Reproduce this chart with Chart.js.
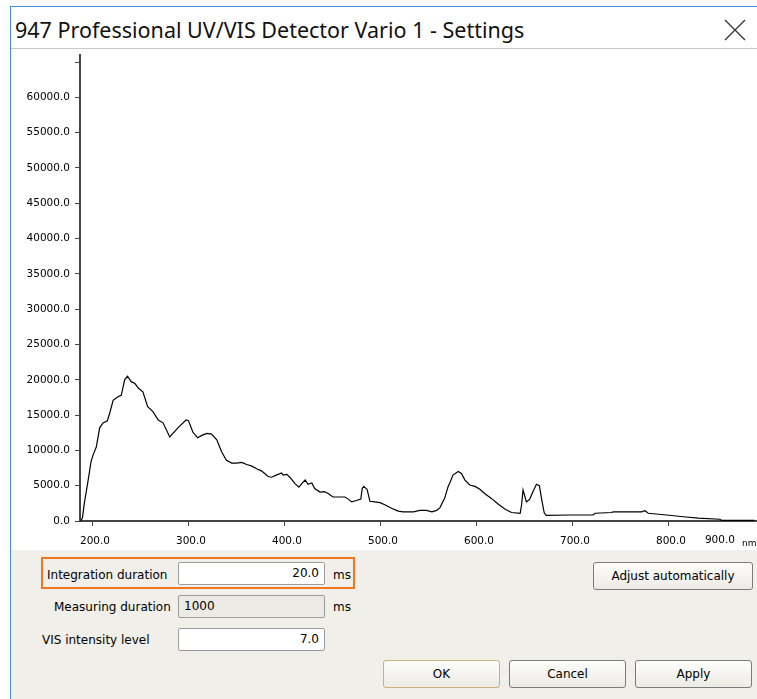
<!DOCTYPE html>
<html>
<head>
<meta charset="utf-8">
<script src="https://cdn.jsdelivr.net/npm/chart.js@4/dist/chart.umd.min.js"></script>
<style>
html, body { margin: 0; padding: 0; }
body { width: 757px; height: 699px; position: relative; overflow: hidden; background: #fff; font-family: "DejaVu Sans", sans-serif; color: #000; }
#win { position: absolute; left: 10px; top: 6px; right: 0; bottom: 0; border-left: 1px solid #3c8fd8; border-top: 1px solid #3c8fd8; }
#title { position: absolute; left: 15px; top: 15px; font-family: "Noto Sans", sans-serif; font-size: 21.5px; color: #111; white-space: nowrap; }
#close { position: absolute; left: 724px; top: 19px; }
#sep { position: absolute; left: 11px; right: 0; top: 48px; height: 1px; background: #c8c8c8; }
#plot { position: absolute; left: 12px; top: 49px; width: 745px; height: 501px; }
#panel { position: absolute; left: 11px; right: 0; top: 550px; bottom: 0; background: #f0efe9; }
.lbl { position: absolute; font-size: 12px; line-height: 14px; white-space: nowrap; }
.box { position: absolute; left: 178px; width: 145px; height: 21px; border: 1px solid #9c9c9c; border-radius: 2px; background: #fff; font-size: 12px; line-height: 21px; box-sizing: content-box; }
.box span { position: absolute; right: 5px; }
.btn { position: absolute; height: 26px; border: 1px solid #7b7b7b; border-radius: 3px; background: linear-gradient(#fdfdfb, #ecebe5); font-size: 12px; line-height: 26px; text-align: center; }
#hl { position: absolute; left: 41px; top: 557px; width: 310px; height: 28px; border: 2px solid #f0781e; }
</style>
</head>
<body>
<div id="win"></div>
<div id="title">947 Professional UV/VIS Detector Vario 1 - Settings</div>
<svg id="close" width="22" height="22"><path d="M1 1 L21 21 M21 1 L1 21" stroke="#333" stroke-width="1.3" fill="none"/></svg>
<div id="sep"></div>
<div id="plot"><canvas id="chart"></canvas></div>
<div id="panel"></div>

<div id="hl"></div>
<div class="lbl" style="left:47px;top:568px">Integration duration</div>
<div class="box" style="top:562px"><span>20.0</span></div>
<div class="lbl" style="left:333px;top:568px">ms</div>

<div class="lbl" style="left:54px;top:600px">Measuring duration</div>
<div class="box" style="top:595px;background:#ebeae4"><span style="left:5px;right:auto">1000</span></div>
<div class="lbl" style="left:333px;top:600px">ms</div>

<div class="lbl" style="left:42px;top:633px">VIS intensity level</div>
<div class="box" style="top:628px"><span>7.0</span></div>

<div class="btn" style="left:593px;top:562px;width:158px">Adjust automatically</div>
<div class="btn" style="left:383px;top:660px;width:115px;border-color:#c9b27c">OK</div>
<div class="btn" style="left:509px;top:660px;width:115px">Cancel</div>
<div class="btn" style="left:635px;top:660px;width:115px">Apply</div>

<script>
// spectrum (nm / counts)
const wavelengths = [188, 190, 192, 196, 199, 201, 204.5, 208, 211.5, 216, 218.5, 222, 227, 230.5, 234, 237, 241, 244.5, 248.5, 253,
    258, 263.5, 269, 274, 281, 289.5, 298, 300.5, 305, 310, 315.5, 320, 324.5, 330, 335, 340, 345.5, 350.5, 356, 361,
    366, 371.5, 376.5, 383.5, 387, 392, 397.5, 399, 403, 406, 411.5, 415.5, 418.5, 422, 425, 429, 432, 437.5, 442, 446,
    451, 458, 463.5, 467, 470.5, 475.5, 480, 481.5, 483, 486.5, 489.5, 494.5, 500, 505, 512, 519, 524, 535, 541.5, 548.5,
    554, 559, 562.5, 567.5, 571, 573, 576, 581.5, 585, 588.5, 593.5, 599, 604, 609, 616, 623, 630, 637, 646, 647.5,
    649, 652.5, 656, 659.5, 663, 666, 668.5, 671, 673, 698, 722, 724, 741, 743, 772.5, 776, 779.5, 798.5, 816, 831.5,
    854, 856, 890];
const intensities = [0, 400, 2500, 5800, 8400, 9300, 10500, 13200, 13900, 14200, 15300, 17100, 17600, 17800, 20000, 20500, 19700, 19500, 18800, 18300,
    16200, 15500, 14300, 13900, 11900, 13200, 14300, 14200, 12600, 11800, 12200, 12400, 12300, 11500, 9800, 8600, 8200, 8200, 8300, 8000,
    7800, 7400, 7100, 6300, 6200, 6500, 6800, 6500, 6600, 6200, 5300, 4800, 5300, 5800, 5200, 5400, 4600, 4100, 4150, 3900,
    3400, 3400, 3400, 3100, 2700, 2900, 3100, 4600, 4900, 4500, 2800, 2700, 2600, 2300, 1800, 1400, 1300, 1300, 1500, 1500,
    1300, 1500, 1900, 3300, 4900, 5500, 6500, 7000, 6700, 5800, 5100, 4900, 4500, 3900, 3200, 2400, 1700, 1200, 1100, 2300,
    4400, 2700, 3100, 4200, 5200, 5000, 3000, 1200, 800, 850, 850, 1100, 1200, 1300, 1300, 1450, 1100, 850, 600, 400,
    250, 80, 80];

const xTickValues = [200, 300, 400, 500, 600, 700, 800];
const yTickValues = [0, 5000, 10000, 15000, 20000, 25000, 30000, 35000, 40000, 45000, 50000, 55000, 60000, 65000];
const hiddenYTick = 65000;
const xMin = 187.5, xMax = 892.7;
const yMin = 0, yMax = 66000;
const lastXLabel = '900.0';
const xUnit = 'nm';

const points = wavelengths.map((w, i) => ({ x: w, y: intensities[i] }));

const axisFont = { family: 'DejaVu Sans', size: 10.5 };

// the 900 label and the unit sit squeezed at the right end of the axis
const unitLabel = {
    id: 'unitLabel',
    afterDraw(chart) {
        const { ctx, scales: { x } } = chart;
        ctx.save();
        ctx.fillStyle = '#000';
        ctx.textBaseline = 'middle';
        ctx.textAlign = 'right';
        ctx.font = '10.5px "DejaVu Sans"';
        ctx.fillText(lastXLabel, x.right - 22, x.top + 19);
        ctx.textAlign = 'left';
        ctx.font = '9px "DejaVu Sans"';
        ctx.fillText(xUnit, x.right - 15, x.top + 23);
        ctx.restore();
    }
};

new Chart(document.getElementById('chart'), {
    type: 'line',
    data: {
        datasets: [{
            data: points,
            borderColor: '#000',
            borderWidth: 1.2,
            pointRadius: 0,
            tension: 0,
            fill: false
        }]
    },
    options: {
        responsive: true,
        maintainAspectRatio: false,
        animation: false,
        layout: { padding: { left: 0, top: 0, right: 0, bottom: 0 } },
        plugins: { legend: { display: false }, tooltip: { enabled: false } },
        scales: {
            x: {
                type: 'linear',
                min: xMin,
                max: xMax,
                afterBuildTicks: s => { s.ticks = xTickValues.map(v => ({ value: v })); },
                afterFit: s => { s.height = 29; },
                border: { display: true, color: '#444', width: 2 },
                grid: { drawOnChartArea: false, drawTicks: true, tickLength: 5, color: '#444' },
                ticks: {
                    autoSkip: false,
                    maxRotation: 0,
                    padding: 9,
                    labelOffset: 3,
                    color: '#000',
                    font: axisFont,
                    callback: v => v.toFixed(1)
                }
            },
            y: {
                min: yMin,
                max: yMax,
                afterBuildTicks: s => { s.ticks = yTickValues.map(v => ({ value: v })); },
                afterFit: s => { s.width = 68; s.paddingTop = 6; },
                border: { display: true, color: '#444', width: 2 },
                grid: { drawOnChartArea: false, drawTicks: true, tickLength: 5, color: '#444' },
                ticks: {
                    autoSkip: false,
                    padding: 5,
                    color: '#000',
                    font: axisFont,
                    callback: v => v === hiddenYTick ? '' : v.toFixed(1)
                }
            }
        }
    },
    plugins: [unitLabel]
});
</script>
</body>
</html>
